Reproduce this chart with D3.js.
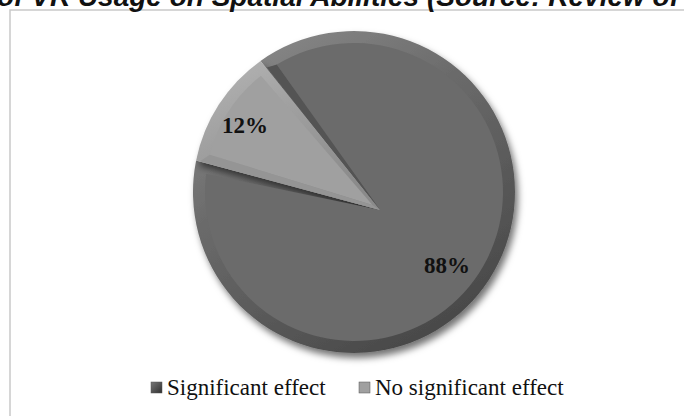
<!DOCTYPE html>
<html><head><meta charset="utf-8">
<script src="https://cdn.jsdelivr.net/npm/d3@7"></script>
<style>html,body{margin:0;padding:0;background:#fff;overflow:hidden}</style>
</head><body>
<svg id="c" width="684" height="416"></svg>
<script>
const titleText = "of VR Usage on Spatial Abilities (Source: Review of Literature)";
const categories = ["Significant effect", "No significant effect"];
const values = [88, 12];
const labels = ["88%", "12%"];
const faceColors = ["#6b6b6b", "#a0a0a0"];
const rimLight = ["#909090", "#b6b6b6"];
const rimDark = ["#4a4a4a", "#8a8a8a"];
const legendColors = ["#4a4a4a", "#a0a0a0"];

const svg = d3.select("#c");
const defs = svg.append("defs");
const f = defs.append("filter").attr("id","sh").attr("x","-20%").attr("y","-20%").attr("width","150%").attr("height","150%");
f.append("feDropShadow").attr("dx",3).attr("dy",5).attr("stdDeviation",3.5).attr("flood-color","#000").attr("flood-opacity",0.55);
categories.forEach((c,i)=>{
  const g = defs.append("linearGradient").attr("id","rim"+i).attr("x1","0").attr("y1","0").attr("x2","0.6").attr("y2","1");
  g.append("stop").attr("offset","0").attr("stop-color",rimLight[i]);
  g.append("stop").attr("offset","0.45").attr("stop-color",faceColors[i]);
  g.append("stop").attr("offset","1").attr("stop-color",rimDark[i]);
});
const lg = defs.append("linearGradient").attr("id","lg0").attr("x1","0").attr("y1","0").attr("x2","1").attr("y2","1");
lg.append("stop").attr("offset","0").attr("stop-color","#777");
lg.append("stop").attr("offset","1").attr("stop-color","#2f2f2f");

// frame
svg.append("rect").attr("x",10).attr("y",10).attr("width",720).attr("height",440)
  .attr("fill","none").attr("stroke","#c9c9c9").attr("stroke-width",1.5);

// title (clipped at top, as in the reference)
svg.append("text").attr("x",-3).attr("y",6)
  .attr("font-family","Liberation Sans, Arial, sans-serif").attr("font-weight","bold")
  .attr("font-style","italic").attr("font-size",28).attr("fill","#111").text(titleText);

const cx = 354, cy = 192, R = 161;
const apex = [cx + 26, cy + 18];
const start = -35.5 * Math.PI/180;
const pie = d3.pie().sort(null).startAngle(start).endAngle(start + 2*Math.PI);
const arcs = pie(values);

function pt(a, r){ return [cx + r*Math.sin(a), cy - r*Math.cos(a)]; }
function slicePath(d, r, ap, da){
  da = da || 0;
  const p = d3.path();
  const s = pt(d.startAngle + da, r);
  p.moveTo(ap[0], ap[1]);
  p.lineTo(s[0], s[1]);
  p.arc(cx, cy, r, d.startAngle + da - Math.PI/2, d.endAngle - da - Math.PI/2, false);
  p.closePath();
  return p.toString();
}
const g = svg.append("g");
// outer rim (bevel)
g.selectAll("path.rim").data(arcs).join("path").attr("class","rim")
  .attr("d", d => slicePath(d, R, apex))
  .attr("fill", (d,i) => `url(#rim${i})`)
  .attr("filter","url(#sh)");
// inner face
const inner = R - 12;
g.selectAll("path.face").data(arcs).join("path").attr("class","face")
  .attr("d", (d,i) => {
    const mid = (d.startAngle + d.endAngle)/2;
    const ap = i === 1 ? [apex[0] + 9*Math.sin(mid), apex[1] - 9*Math.cos(mid)] : apex;
    return slicePath(d, inner, ap, i===1 ? 0.055 : 0.075);
  })
  .attr("fill", (d,i) => faceColors[i]);
// dark side facet of big slice along its start edge
const d0 = arcs[0];
const sA = pt(d0.startAngle + 0.01, R - 9), sAin = pt(d0.startAngle + 0.075, inner);
g.append("path").attr("d", `M${apex[0]},${apex[1]}L${sA[0]},${sA[1]}L${sAin[0]},${sAin[1]}Z`).attr("fill","#545454");
// lighter facet of small slice along its lower edge
const d1 = arcs[1];
const sB = pt(d1.startAngle, R - 4), sBin = pt(d1.startAngle + 0.055, inner);
const mid1 = (d1.startAngle + d1.endAngle)/2;
const ap1 = [apex[0] + 9*Math.sin(mid1), apex[1] - 9*Math.cos(mid1)];
g.append("path").attr("d", `M${apex[0]},${apex[1]}L${sB[0]},${sB[1]}L${sBin[0]},${sBin[1]}L${ap1[0]},${ap1[1]}Z`).attr("fill","#959595");

// labels
const labelPos = [[447, 273], [245, 133]];
svg.selectAll("text.lab").data(arcs).join("text").attr("class","lab")
  .attr("x",(d,i)=>labelPos[i][0]).attr("y",(d,i)=>labelPos[i][1])
  .attr("text-anchor","middle").attr("font-family","Liberation Serif, Times New Roman, serif")
  .attr("font-weight","bold").attr("font-size",23).attr("fill","#111")
  .text((d,i)=>labels[i]);

// legend
const legX = [151, 359];
const leg = svg.selectAll("g.leg").data(categories).join("g").attr("class","leg")
  .attr("transform",(d,i)=>`translate(${legX[i]},380)`);
leg.append("rect").attr("width",11).attr("height",11).attr("y",2)
  .attr("fill",(d,i)=> i===0 ? "url(#lg0)" : legendColors[i]).attr("stroke","#555").attr("stroke-width",0.5);
leg.append("text").attr("x",16).attr("y",15).attr("font-family","Liberation Serif, Times New Roman, serif")
  .attr("font-size",23).attr("fill","#111").text(d=>d);
</script>
</body></html>
